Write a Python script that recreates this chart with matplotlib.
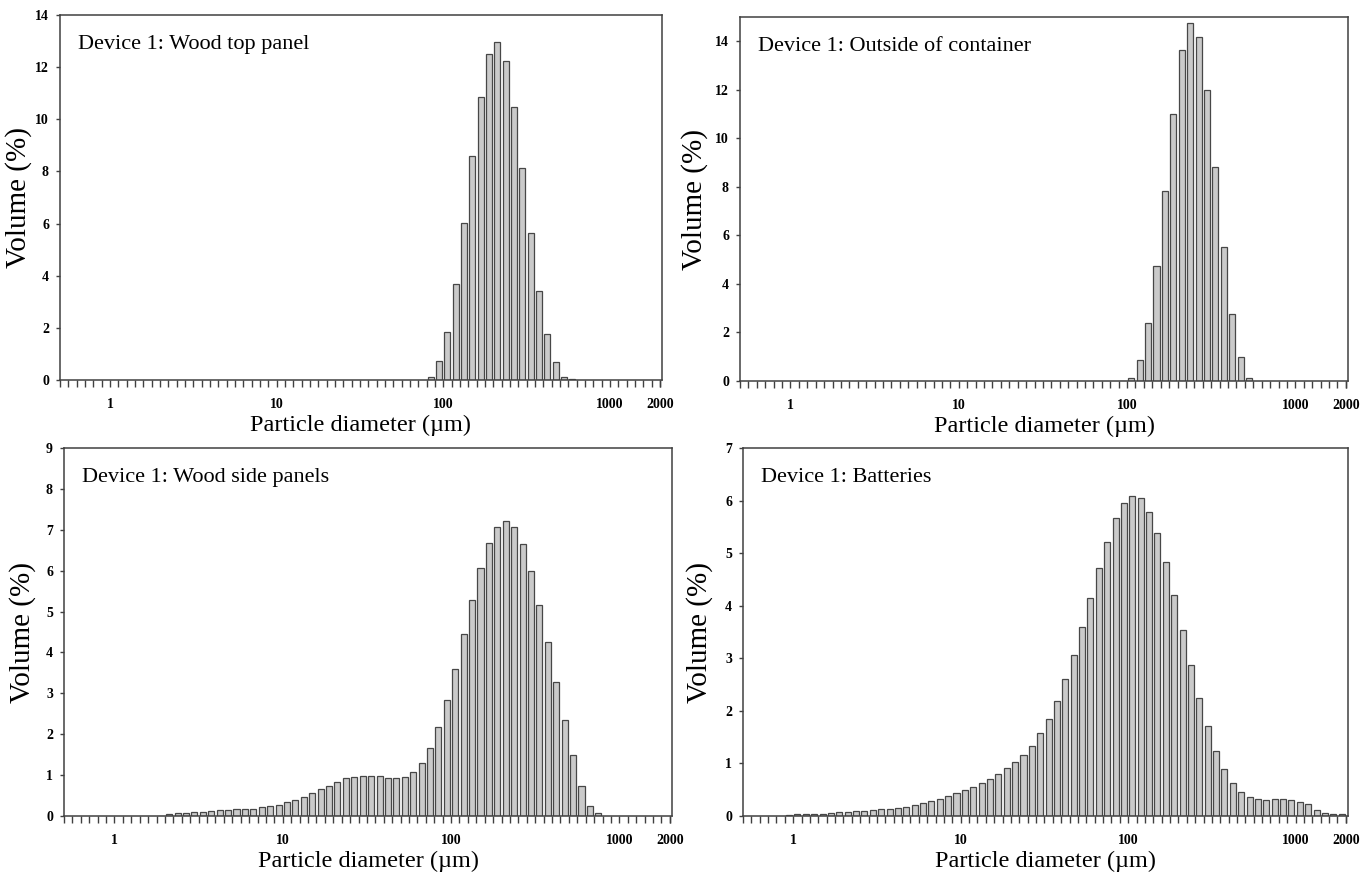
import numpy as np
import matplotlib
matplotlib.use("Agg")
import matplotlib.pyplot as plt
from matplotlib.ticker import FixedLocator, NullFormatter, FixedFormatter

# Size classes: 20 log-spaced bins per decade from 0.5 to 2000 um (72 classes)
bin_edges = 10 ** (np.arange(-6, 67) / 20.0)

x_tick_values = [1, 10, 100, 1000, 2000]
x_tick_labels = ["1", "10", "100", "1000", "2000"]

titles = ["Device 1: Wood top panel", "Device 1: Outside of container",
          "Device 1: Wood side panels", "Device 1: Batteries"]

# index of first class with data, then volume % per class
top_panel_start = 44
top_panel = [0.10, 0.73, 1.85, 3.68, 6.01, 8.59, 10.87, 12.49, 12.96, 12.25,
             10.48, 8.14, 5.63, 3.43, 1.76, 0.70, 0.10, 0.02]

container_start = 45
container = [0.02, 0.14, 0.86, 2.37, 4.74, 7.82, 11.02, 13.62, 14.77, 14.16,
             12.00, 8.82, 5.51, 2.77, 0.99, 0.11]

side_panels_start = 11
side_panels = [0.01, 0.06, 0.065, 0.08, 0.10, 0.11, 0.12, 0.14, 0.15, 0.16, 0.17,
               0.18, 0.21, 0.24, 0.27, 0.34, 0.39, 0.47, 0.57, 0.66, 0.74,
               0.84, 0.92, 0.96, 0.98, 0.98, 0.97, 0.94, 0.93, 0.96, 1.07,
               1.29, 1.66, 2.17, 2.83, 3.59, 4.45, 5.28, 6.07, 6.68, 7.08,
               7.21, 7.07, 6.64, 6.00, 5.16, 4.25, 3.28, 2.35, 1.48, 0.74,
               0.24, 0.07]

batteries_start = 5
batteries = [0.01, 0.03, 0.045, 0.045, 0.045, 0.06, 0.07, 0.08, 0.095, 0.10, 0.11,
             0.13, 0.14, 0.16, 0.18, 0.21, 0.24, 0.28, 0.33, 0.38, 0.43,
             0.49, 0.56, 0.63, 0.71, 0.80, 0.91, 1.02, 1.16, 1.34, 1.57,
             1.85, 2.18, 2.61, 3.07, 3.60, 4.15, 4.72, 5.22, 5.66, 5.95,
             6.08, 6.04, 5.79, 5.38, 4.84, 4.21, 3.54, 2.87, 2.25, 1.71,
             1.24, 0.89, 0.63, 0.46, 0.36, 0.32, 0.31, 0.32, 0.32, 0.30,
             0.27, 0.22, 0.11, 0.06, 0.03, 0.03]

y_max = [14, 15, 9, 7]
y_step = [2, 2, 1, 1]
y_top_tick = [14, 14, 9, 7]

series = [(top_panel_start, top_panel), (container_start, container),
          (side_panels_start, side_panels), (batteries_start, batteries)]

positions = [
    [60 / 1365, 1 - 380 / 872, 602 / 1365, 365 / 872],
    [740 / 1365, 1 - 381 / 872, 608 / 1365, 364 / 872],
    [64 / 1365, 1 - 816 / 872, 608 / 1365, 368 / 872],
    [743 / 1365, 1 - 816 / 872, 605 / 1365, 368 / 872],
]
# horizontal position (axes fraction) of the right edge of each y-label
ylabel_x = [-0.046, -0.052, -0.046, -0.05]

serif = "Liberation Serif"
fig = plt.figure(figsize=(13.65, 8.72), dpi=100)

shrink = 10 ** (0.14 / 20)
for n in range(4):
    ax = fig.add_axes(positions[n])
    start, vals = series[n]
    vals = np.array(vals)
    lo = bin_edges[start:start + len(vals)] * shrink
    hi = bin_edges[start + 1:start + 1 + len(vals)] / shrink
    ax.bar(lo, vals, width=hi - lo, align="edge", color="#cacaca",
           edgecolor="#474747", linewidth=0.9, zorder=2)
    ax.set_xscale("log")
    ax.set_xlim(bin_edges[0], bin_edges[-1] * 1.03)
    ax.set_ylim(0, y_max[n])
    ax.xaxis.set_major_locator(FixedLocator(x_tick_values))
    ax.xaxis.set_major_formatter(FixedFormatter(x_tick_labels))
    ax.xaxis.set_minor_locator(FixedLocator(bin_edges))
    ax.xaxis.set_minor_formatter(NullFormatter())
    ax.set_yticks(np.arange(0, y_top_tick[n] + 0.01, y_step[n]))
    ax.tick_params(axis="x", which="both", direction="out", length=5,
                   width=1.0, color="#404040", pad=8)
    ax.tick_params(axis="y", direction="out", length=3, width=1.0,
                   color="#404040", pad=5)
    for lab in ax.get_xticklabels() + ax.get_yticklabels():
        lab.set_fontfamily(serif)
        lab.set_fontweight("bold")
        lab.set_fontsize(10)
    for sp in ax.spines.values():
        sp.set_color("#404040")
        sp.set_linewidth(1.1)
    ax.set_xlabel("Particle diameter (\u00b5m)", family=serif, fontsize=17.5,
                  labelpad=3)
    ax.set_ylabel("Volume (%)", family=serif, fontsize=21)
    ax.yaxis.set_label_coords(ylabel_x[n], 0.5)
    ax.text(0.03, 0.92, titles[n], transform=ax.transAxes, family=serif,
            fontsize=16, va="center", ha="left")

fig.savefig("out.png", dpi=100)
